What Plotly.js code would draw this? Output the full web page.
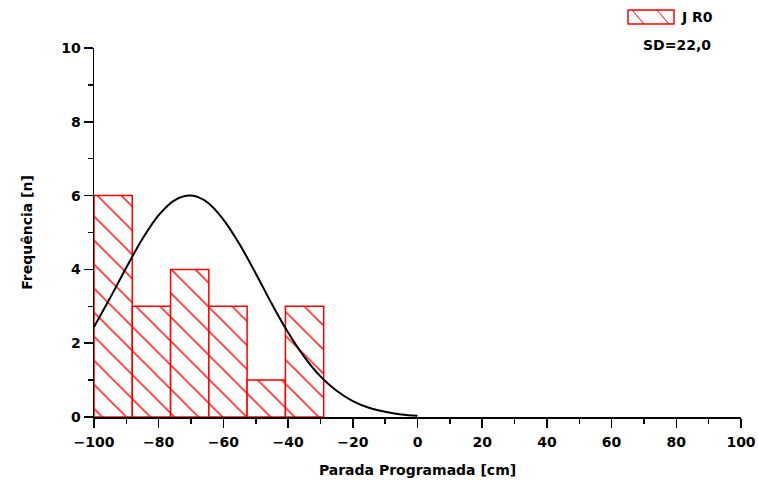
<!DOCTYPE html>
<html>
<head>
<meta charset="utf-8">
<script src="https://cdn.plot.ly/plotly-3.0.1.min.js"></script>
<style>html,body{margin:0;padding:0;background:#fff;}#chart{width:758px;height:492px;}</style>
</head>
<body>
<div id="chart"></div>
<script>
// Histogram data
const binEdges = [-100, -88.17, -76.33, -64.5, -52.67, -40.83, -29];
const counts = [6, 3, 4, 3, 1, 3];

// Fitted normal curve
const curveX = [-100, -95, -90, -85, -80, -75, -70, -65, -60, -55, -50, -45, -40, -35, -30, -25, -20, -15, -10, -5, 0];
const curveY = [2.44, 3.23, 4.05, 4.83, 5.47, 5.88, 6.00, 5.82, 5.35, 4.68, 3.89, 3.06, 2.29, 1.63, 1.10, 0.71, 0.43, 0.25, 0.14, 0.07, 0.035];

const seriesName = 'J R0';
const sdLabel = 'SD=22,0';
const xTitle = 'Parada Programada [cm]';
const yTitle = 'Frequência [n]';

const centers = counts.map((c, i) => (binEdges[i] + binEdges[i + 1]) / 2);
const widths = counts.map((c, i) => binEdges[i + 1] - binEdges[i]);

const font = {family: 'DejaVu Sans, sans-serif', size: 14, color: '#000', weight: 'bold'};

const traces = [
  {
    type: 'bar',
    x: centers,
    y: counts,
    width: widths,
    name: seriesName,
    marker: {
      color: 'white',
      line: {color: '#ff0000', width: 1.5},
      pattern: {shape: '\\', fgcolor: '#ff0000', bgcolor: 'white', size: 17, solidity: 0.08}
    },
    showlegend: false
  },
  {
    type: 'scatter',
    mode: 'lines',
    x: curveX,
    y: curveY,
    line: {color: '#000', width: 2, shape: 'spline'},
    showlegend: false,
    hoverinfo: 'skip'
  }
];

// legend helpers (pixel -> paper)
const px = v => (v - 94) / 647;
const py = v => (417 - v) / 369;
const red = '#ff0000';

const layout = {
  width: 758,
  height: 492,
  margin: {l: 94, r: 17, t: 48, b: 75},
  paper_bgcolor: 'white',
  plot_bgcolor: 'white',
  font: font,
  bargap: 0,
  showlegend: false,
  xaxis: {
    range: [-100, 100],
    tickmode: 'linear', tick0: -100, dtick: 20,
    ticks: 'outside', ticklen: 9, tickwidth: 1.5, tickcolor: '#000',
    minor: {dtick: 10, ticks: 'outside', ticklen: 5, tickwidth: 1.5, tickcolor: '#000'},
    showline: true, linecolor: '#000', linewidth: 1.5,
    showgrid: false, zeroline: false,
    ticklabelstandoff: 3,
    tickfont: font,
    title: {text: xTitle, font: font, standoff: 16}
  },
  yaxis: {
    range: [0, 10],
    tickmode: 'linear', tick0: 0, dtick: 2,
    ticks: 'outside', ticklen: 9, tickwidth: 1.5, tickcolor: '#000',
    minor: {dtick: 1, ticks: 'outside', ticklen: 5, tickwidth: 1.5, tickcolor: '#000'},
    showline: true, linecolor: '#000', linewidth: 1.5,
    showgrid: false, zeroline: false,
    tickfont: font,
    title: {text: yTitle, font: font, standoff: 25}
  },
  shapes: [
    {type: 'rect', xref: 'paper', yref: 'paper', x0: px(628), x1: px(674), y0: py(24), y1: py(10), line: {color: red, width: 1.5}, fillcolor: 'white'},
    {type: 'line', xref: 'paper', yref: 'paper', x0: px(632), x1: px(644), y0: py(10), y1: py(24), line: {color: red, width: 1}},
    {type: 'line', xref: 'paper', yref: 'paper', x0: px(657), x1: px(669), y0: py(10), y1: py(24), line: {color: red, width: 1}}
  ],
  annotations: [
    {text: seriesName, xref: 'paper', yref: 'paper', x: px(679), y: py(17), xanchor: 'left', yanchor: 'middle', showarrow: false, font: font},
    {text: sdLabel, xref: 'paper', yref: 'paper', x: px(677), y: py(45), xanchor: 'center', yanchor: 'middle', showarrow: false, font: font}
  ]
};

Plotly.newPlot('chart', traces, layout, {displayModeBar: false, staticPlot: true});
</script>
</body>
</html>
